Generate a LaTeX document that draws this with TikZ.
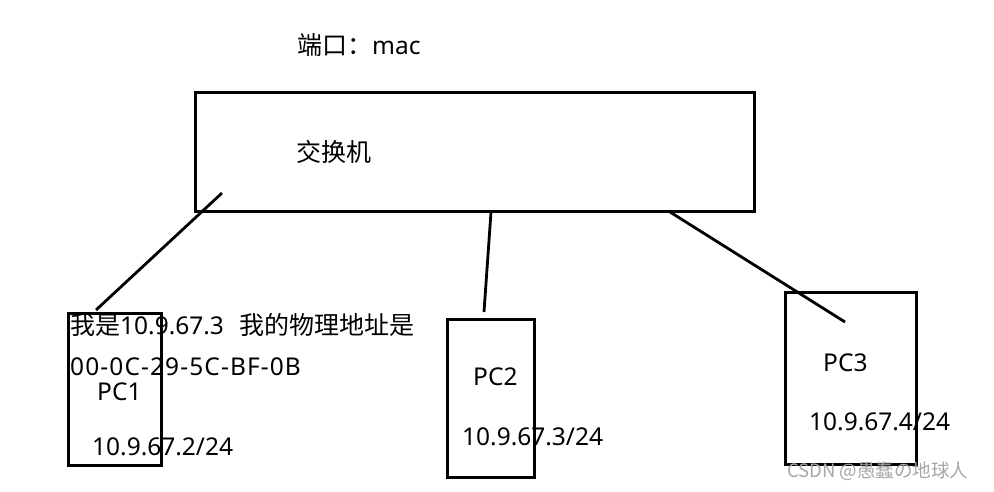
\documentclass[tikz,border=0pt]{standalone}
\usepackage{fontspec}
\setmainfont{Noto Sans}
\newfontfamily\cjk{Noto Sans CJK SC}
\tikzset{
  box/.style={draw, line width=3pt, inner sep=0pt},
  wire/.style={line width=2.8pt},
  lbl/.style={anchor=west, inner sep=0pt, font=\fontsize{24.5}{28}\selectfont},
}
\begin{document}
\begin{tikzpicture}[x=1pt,y=-1pt]
\useasboundingbox (0,0) rectangle (994,491);
% switch and hosts
\node[box, minimum width=559pt, minimum height=119pt] (sw) at (474.5,151.5) {};
\node[box, minimum width=93pt, minimum height=152pt] (pc1) at (114.5,389) {};
\node[box, minimum width=87pt, minimum height=158pt] (pc2) at (490.5,398) {};
\node[box, minimum width=131pt, minimum height=172pt] (pc3) at (850.5,378) {};
% cable ends
\coordinate (s1) at (222,193);
\coordinate (h1) at (96,310);
\coordinate (s2) at (491,212);
\coordinate (h2) at (484,312);
\coordinate (s3) at (670,212);
\coordinate (h3) at (845,322);
\draw[wire] (s1) -- (h1);
\draw[wire] (s2) -- (h2);
\draw[wire] (s3) -- (h3);
% texts
\node[lbl] (port) at (297,45) {{\cjk\fontsize{25}{28}\selectfont 端口：}mac};
\node[lbl] (swname) at (296,152) {\cjk\fontsize{25}{28}\selectfont 交换机};
\node[lbl] (say) at (70,325) {{\cjk\fontsize{25}{28}\selectfont 我是}10.9.67.3\hspace{0.65em}{\cjk\fontsize{25}{28}\selectfont 我的物理地址是}};
\node[lbl] (mac) at (70,367) {\addfontfeature{LetterSpace=4.5}00-0C-29-5C-BF-0B};
\node[lbl] (n1) at (97,392) {PC1};
\node[lbl] (ip1) at (92,447) {10.9.67.2/24};
\node[lbl] (n2) at (473,377) {PC2};
\node[lbl] (ip2) at (462,437) {10.9.67.3/24};
\node[lbl] (n3) at (823,363) {PC3};
\node[lbl] (ip3) at (809,422) {10.9.67.4/24};
\node[anchor=west, inner sep=0pt, text=gray!70, font=\cjk\fontsize{18.5}{21}\selectfont] (wm) at (787,471) {CSDN @愚蠢の地球人};
\end{tikzpicture}
\end{document}
